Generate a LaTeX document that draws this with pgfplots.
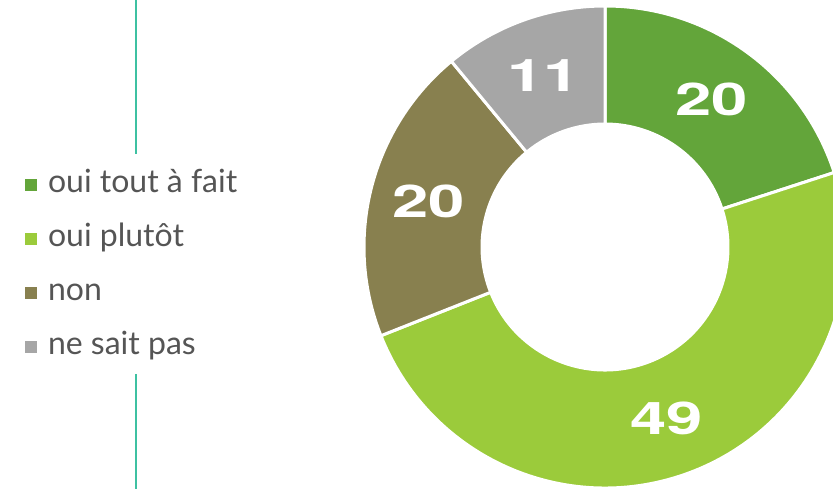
\documentclass[border=0pt]{standalone}
\usepackage{graphicx}
\usepackage{pgfplots}
\pgfplotsset{compat=1.18}
\usepackage{pgfplotstable}
\usepackage{fontspec}
\setmainfont{Lato}
\newfontfamily\numfont{TeX Gyre Heros}
\definecolor{s0}{HTML}{63A53A}
\definecolor{s1}{HTML}{9BCB3B}
\definecolor{s2}{HTML}{88804F}
\definecolor{s3}{HTML}{A6A6A6}
\definecolor{txt}{HTML}{555555}
\definecolor{tealline}{HTML}{3EC1A2}
\pgfplotstableread{
idx value
0 20
1 49
2 20
3 11
}\donut
\tikzset{lbl/.style={font=\numfont\bfseries\fontsize{45}{45}\selectfont, text=white, inner sep=0pt}}
\begin{document}
\begin{tikzpicture}
\begin{axis}[name=ax, x=1pt, y=1pt, xmin=0, xmax=833, ymin=0, ymax=489,
  hide axis, clip=true,
  legend style={at={(axis cs:25,320)}, anchor=north west, draw=none, fill=none,
    inner sep=0pt, outer sep=0pt, row sep=22pt, column sep=11pt,
    font=\fontsize{32}{32}\selectfont, text=txt,
    cells={anchor=west},
    nodes={inner sep=0pt, text height=24pt, text depth=8pt}},
  legend image code/.code={\path[#1] (0pt,-6pt) rectangle (12pt,6pt);},
]
\addlegendimage{fill=s0, draw=none}
\addlegendimage{fill=s1, draw=none}
\addlegendimage{fill=s2, draw=none}
\addlegendimage{fill=s3, draw=none}
\legend{oui tout à fait, oui plutôt, non, ne sait pas}
\def\startang{90}
\pgfplotsforeachungrouped \i in {0,...,3}{%
  \pgfplotstablegetelem{\i}{value}\of\donut
  \let\v\pgfplotsretval
  \pgfmathsetmacro\endang{\startang-3.6*\v}
  \pgfmathsetmacro\midang{(\startang+\endang)/2}
  \pgfmathsetmacro\backang{\endang+180}
  \edef\temp{\noexpand\fill[fill=s\i, draw=white, line width=3pt] (axis cs:605,242) ++(\startang:241pt) arc[start angle=\startang, end angle=\endang, radius=241pt] -- ++(\backang:118pt) arc[start angle=\endang, end angle=\startang, radius=123pt] -- cycle;
  \noexpand\path (axis cs:605,242) ++(\midang:182pt) node[lbl] {\noexpand\scalebox{1.45}[1]{\v}};}%
  \temp
  \let\startang\endang
}
\draw[tealline, line width=2.5pt] (axis cs:136,489) -- (axis cs:136,335);
\draw[tealline, line width=2.5pt] (axis cs:136,115) -- (axis cs:136,0);
\end{axis}
\pgfresetboundingbox
\useasboundingbox (ax.south west) rectangle (ax.north east);
\end{tikzpicture}
\end{document}
